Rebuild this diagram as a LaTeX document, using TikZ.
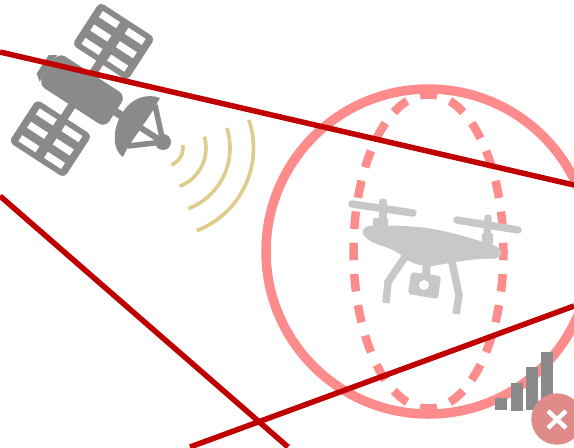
\documentclass[tikz,border=0pt]{standalone}
\usepackage{tikz}
\definecolor{beamred}{HTML}{C00000}
\definecolor{zonepink}{HTML}{FF8C8C}
\definecolor{satgray}{HTML}{8A8A8A}
\definecolor{dronegray}{HTML}{C8C8C8}
\definecolor{wavegold}{HTML}{E0CC8A}
\definecolor{failpink}{HTML}{E08A8A}
\newcommand{\panel}[1]{\begin{scope}[shift={(0,#1)}]
\fill[satgray,rounded corners=5*.02cm] (-33,-25.5) rectangle (33,25.5);
\foreach \i in {-15.3,15.3}{\foreach \j in {-16,0,16}{\fill[white] (\i-10.2,\j-3.6) rectangle (\i+10.2,\j+3.6);}}
\end{scope}}
\begin{document}
\begin{tikzpicture}[x=.02cm,y=-.02cm,
beam/.style={beamred,line width=5.5*.02cm},
wave/.style={wavegold,line width=3.6*.02cm},
strut/.style={satgray,line width=5.5*.02cm},
dronepart/.style={dronegray,line width=7.5*.02cm},
bar/.style={fill=satgray}]
\useasboundingbox (0,0) rectangle (574,447);
\clip (0,0) rectangle (574,447);
\coordinate (beamAa) at (0,52);\coordinate (beamAb) at (574,185);
\coordinate (beamBa) at (0,196);\coordinate (beamBb) at (288,447);
\coordinate (beamCa) at (190,447);\coordinate (beamCb) at (574,306);
\coordinate (cell) at (428.5,251.5);\coordinate (feed) at (165,148);
% coverage zone
\draw[zonepink,line width=9.5*.02cm] (cell) circle [radius=162.5];
\draw[zonepink,line width=8.5*.02cm,dash pattern=on 17.5*.02cm off 13.83*.02cm,dash phase=8.75*.02cm] (cell) ellipse [x radius=75,y radius=157];
% satellite
\begin{scope}[shift={(82,90)},rotate=-33]
\fill[satgray] (-40,-16)--(-47,-11)--(-47,11)--(-40,16)--cycle;
\fill[satgray] (-4,-40) rectangle (4,40);
\fill[satgray] (36,-4) rectangle (58,4);
\fill[satgray,rounded corners=8*.02cm] (-40,-19) rectangle (40,19);
\panel{58}
\panel{-58}
\end{scope}
\fill[satgray] (160,98) .. controls (148,93) and (130,97) .. (120,117) .. controls (112,133) and (113,150) .. (123,157) .. controls (128,145) and (137,135) .. (143,125) .. controls (150,116) and (155,107) .. cycle;
\draw[strut] (155,105)--(163,142);
\draw[strut] (128,146)--(163,142);
\draw[strut,line width=6*.02cm] (141,128)--(163,142);
\fill[satgray] (163,142) circle [radius=8];
\foreach \r/\a in {18/-10,41/-16,65/-18,88.5/-18.6}{\draw[wave] ([shift={(\a:\r)}]feed) arc [start angle=\a,end angle=69,radius=\r];}
% drone
\begin{scope}[dronepart]
\draw[line cap=round] (352,204)--(413,213);
\draw[line cap=round] (457,220)--(518,230);
\draw[line cap=round] (383,202)--(383,223);
\draw[line cap=round] (488,218)--(487,240);
\fill[rounded corners=2*.02cm] (373,218) rectangle (388,230);
\fill[rounded corners=2*.02cm] (482,233) rectangle (493,245);
\fill[rounded corners=4*.02cm] (361,232)--(366,226) .. controls (385,225) and (415,226) .. (433,229) .. controls (450,232) and (470,238) .. (497,246)--(503,253)--(497,259) .. controls (480,258) and (460,261) .. (433,266) .. controls (420,266) and (410,263) .. (400,254) .. controls (390,248) and (375,244) .. (367,239)--cycle;
\draw (405,257)--(388,282)--(386,303);
\draw (452,262)--(459,295)--(456,314);
\draw[line width=8*.02cm] (427,263)--(426,275);
\fill[rounded corners=3*.02cm] (411,272)--(441,276)--(438,299)--(408,294)--cycle;
\fill[white] (424,285) circle [radius=5];
\end{scope}
% signal
\fill[bar] (495,398) rectangle (507,410);
\fill[bar] (511,383) rectangle (523,410.5);
\fill[bar] (526,367) rectangle (538,410);
\fill[bar] (541,352) rectangle (553,410);
\fill[failpink] (557,419) circle [radius=25.7];
\draw[white,line width=4.5*.02cm] (548,411)--(566,428) (566,411)--(548,428);
% beams
\draw[beam] (beamAa)--(beamAb);
\draw[beam] (beamBa)--(beamBb);
\draw[beam] (beamCa)--(beamCb);
\end{tikzpicture}
\end{document}
